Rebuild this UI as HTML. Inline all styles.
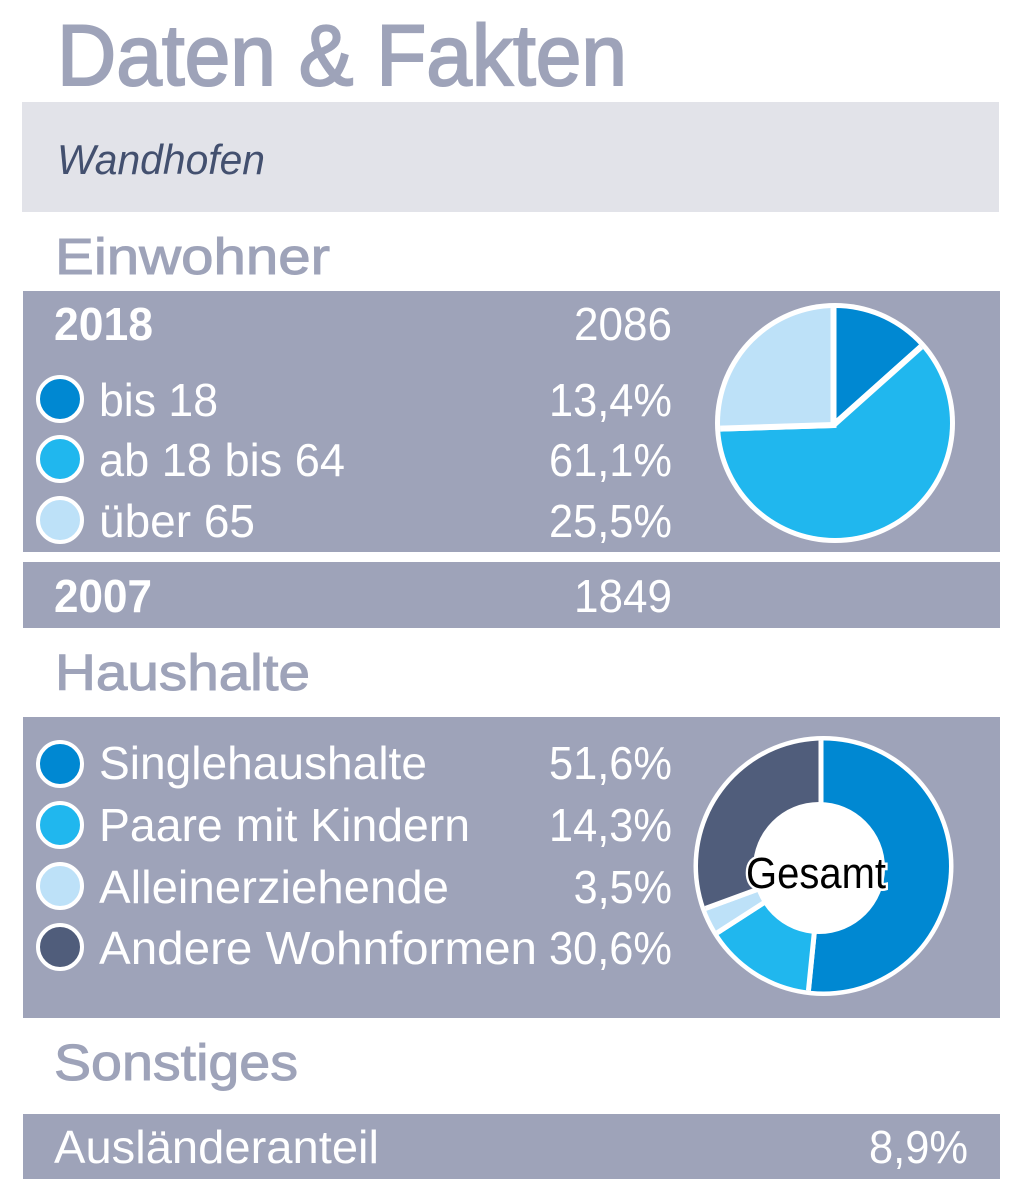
<!DOCTYPE html>
<html lang="de">
<head>
<meta charset="utf-8">
<title>Daten &amp; Fakten – Wandhofen</title>
<style>
html,body{margin:0;padding:0;background:#fff;}
svg{display:block;}
text{font-family:"Liberation Sans",sans-serif;}
.white{fill:#fff;font-size:46px;}
.head{fill:#9ea3b9;stroke:#9ea3b9;stroke-width:1px;font-size:51px;}
</style>
</head>
<body>
<svg id="page" width="1024" height="1202" viewBox="0 0 1024 1202" xmlns="http://www.w3.org/2000/svg">
  <defs>
    <clipPath id="pie-clip"><circle cx="835" cy="423" r="115"/></clipPath>
    <clipPath id="donut-clip"><circle cx="823.5" cy="866" r="125.5"/></clipPath>
  </defs>
  <text x="57" y="85" font-size="86" fill="#9ea3b9" stroke="#9ea3b9" stroke-width="2" textLength="570" lengthAdjust="spacingAndGlyphs">Daten &amp; Fakten</text>
  <rect x="22" y="102" width="977" height="110" fill="#e2e3e9"/>
  <text x="57" y="174" font-size="42" font-style="italic" fill="#43506f" textLength="208" lengthAdjust="spacingAndGlyphs">Wandhofen</text>

  <text class="head" x="55" y="274" textLength="275" lengthAdjust="spacingAndGlyphs">Einwohner</text>
  <rect x="23" y="291" width="977" height="261" fill="#9ea3b9"/>
  <text x="54" y="340" font-size="46" font-weight="bold" fill="#fff" textLength="99" lengthAdjust="spacingAndGlyphs">2018</text>
  <text class="white" x="672" y="340" text-anchor="end" textLength="98" lengthAdjust="spacingAndGlyphs">2086</text>
  <rect x="23" y="562" width="977" height="66" fill="#9ea3b9"/>
  <text x="54" y="612" font-size="46" font-weight="bold" fill="#fff" textLength="98" lengthAdjust="spacingAndGlyphs">2007</text>
  <text class="white" x="672" y="612" text-anchor="end" textLength="98" lengthAdjust="spacingAndGlyphs">1849</text>

  <text class="head" x="55" y="690" textLength="255" lengthAdjust="spacingAndGlyphs">Haushalte</text>
  <rect x="23" y="717" width="977" height="301" fill="#9ea3b9"/>

  <text class="head" x="54" y="1080" textLength="244" lengthAdjust="spacingAndGlyphs">Sonstiges</text>
  <rect x="23" y="1114" width="977" height="65" fill="#9ea3b9"/>
  <text class="white" x="54" y="1163" textLength="325" lengthAdjust="spacingAndGlyphs">Ausländeranteil</text>
  <text class="white" x="968" y="1163" text-anchor="end" textLength="99" lengthAdjust="spacingAndGlyphs">8,9%</text>

  <circle cx="835" cy="423" r="120" fill="#fff"/>
  <g id="pie" clip-path="url(#pie-clip)"></g>
  <circle cx="823.5" cy="866" r="130" fill="#fff"/>
  <g id="donut" clip-path="url(#donut-clip)"></g>
  <circle cx="819" cy="868" r="66" fill="#fff"/>
  <text x="816" y="888" font-size="44" fill="#000" stroke="#fff" stroke-width="5" paint-order="stroke" text-anchor="middle" textLength="140" lengthAdjust="spacingAndGlyphs">Gesamt</text>
  <g id="legends"></g>
</svg>
<script>
const ageCategories = ["bis 18", "ab 18 bis 64", "über 65"];
const ageValues = [13.4, 61.1, 25.5];
const ageColors = ["#0088d2", "#20b7ee", "#bde1f8"];
const householdCategories = ["Singlehaushalte", "Paare mit Kindern", "Alleinerziehende", "Andere Wohnformen"];
const householdValues = [51.6, 14.3, 3.5, 30.6];
const householdColors = ["#0088d2", "#20b7ee", "#bde1f8", "#505d7b"];
const ageLabelWidths = [119, 246, 156];
const householdLabelWidths = [328, 371, 350, 438];

const NS = "http://www.w3.org/2000/svg";
function angleScale(values) {
  const total = values.reduce((a, b) => a + b, 0);
  return v => v / total * Math.PI * 2;
}
function drawSlices(groupId, values, colors, cx, cy, r, gap, prefix) {
  const g = document.getElementById(groupId);
  const scale = angleScale(values);
  let a = 0;
  values.forEach((v, i) => {
    const b = a + scale(v);
    const x1 = cx + r * Math.sin(a), y1 = cy - r * Math.cos(a);
    const x2 = cx + r * Math.sin(b), y2 = cy - r * Math.cos(b);
    const large = b - a > Math.PI ? 1 : 0;
    const p = document.createElementNS(NS, "path");
    p.setAttribute("d", `M${cx} ${cy}L${x1} ${y1}A${r} ${r} 0 ${large} 1 ${x2} ${y2}Z`);
    p.setAttribute("fill", colors[i]);
    p.setAttribute("stroke", "#fff");
    p.setAttribute("stroke-width", gap);
    
    
    g.appendChild(p);
    a = b;
  });
}
function fmt(v) { return v.toFixed(1).replace(".", ",") + "%"; }
function drawLegend(cats, vals, cols, widths, rowY, swatchY, prefix) {
  const g = document.getElementById("legends");
  cats.forEach((c, i) => {
    const o = document.createElementNS(NS, "circle");
    o.setAttribute("cx", 60);
    o.setAttribute("cy", swatchY[i]);
    o.setAttribute("r", 22);
    o.setAttribute("fill", cols[i]);
    o.setAttribute("stroke", "#fff");
    o.setAttribute("stroke-width", 4);
    
    
    g.appendChild(o);
    const t = document.createElementNS(NS, "text");
    t.setAttribute("class", "white");
    t.setAttribute("x", 99);
    t.setAttribute("y", rowY[i]);
    t.setAttribute("textLength", widths[i]);
    t.setAttribute("lengthAdjust", "spacingAndGlyphs");
    
    
    t.textContent = c;
    g.appendChild(t);
    const n = document.createElementNS(NS, "text");
    const label = fmt(vals[i]);
    n.setAttribute("class", "white");
    n.setAttribute("x", 672);
    n.setAttribute("y", rowY[i]);
    n.setAttribute("text-anchor", "end");
    n.setAttribute("textLength", label.length * 24.6);
    n.setAttribute("lengthAdjust", "spacingAndGlyphs");
    
    
    n.textContent = label;
    g.appendChild(n);
  });
}
drawSlices("pie", ageValues, ageColors, 833.5, 425, 140, 6, "age");
drawSlices("donut", householdValues, householdColors, 821, 866, 150, 5, "household");
drawLegend(ageCategories, ageValues, ageColors, ageLabelWidths, [416, 476, 537], [399, 459, 520], "age");
drawLegend(householdCategories, householdValues, householdColors, householdLabelWidths, [779, 841, 903, 964], [764, 825, 886, 947], "household");
</script>
</body>
</html>
